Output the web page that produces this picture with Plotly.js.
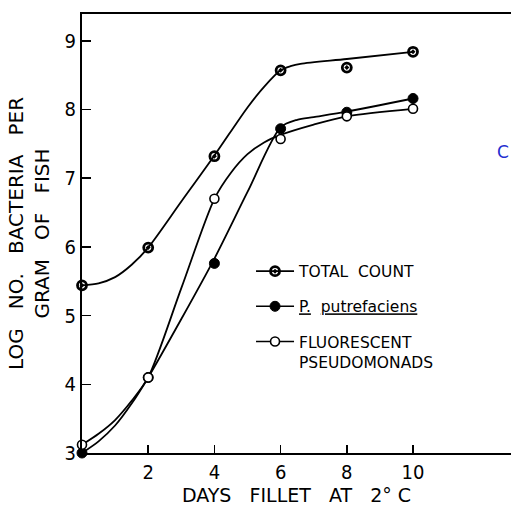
<!DOCTYPE html>
<html>
<head>
<meta charset="utf-8">
<script src="https://cdn.plot.ly/plotly-3.0.1.min.js"></script>
<style>html,body{margin:0;padding:0;background:#fff;}#chart{width:511px;height:509px;}</style>
</head>
<body>
<div id="chart"></div>
<script>
// Measured points
const days = [0, 2, 4, 6, 8, 10];
const totalCount = [5.44, 5.99, 7.32, 8.57, 8.61, 8.84];
const putrefaciens = [3.00, 4.10, 5.76, 7.72, 7.96, 8.16];
const fluorescent = [3.12, 4.10, 6.70, 7.57, 7.90, 8.01];

// Hand-drawn curves
const totalCurveDays = [0, 0.5, 1, 1.5, 2, 3, 4, 5, 5.5, 6, 6.3, 6.6, 8, 10];
const totalCurve = [5.44, 5.47, 5.56, 5.74, 5.99, 6.66, 7.33, 8.03, 8.33, 8.57, 8.63, 8.665, 8.735, 8.84];
const putCurveDays = [0, 0.5, 1, 1.5, 2, 3, 4, 5, 6, 6.5, 7, 8, 10];
const putCurve = [3.00, 3.17, 3.40, 3.72, 4.10, 4.95, 5.83, 6.80, 7.74, 7.85, 7.89, 7.97, 8.16];
const fluCurveDays = [0, 0.5, 1, 1.5, 2, 3, 4, 4.5, 5, 5.5, 6, 7, 8, 10];
const fluCurve = [3.12, 3.28, 3.48, 3.76, 4.10, 5.40, 6.70, 7.08, 7.35, 7.52, 7.63, 7.78, 7.90, 8.01];

const xTicks = [2, 4, 6, 8, 10];
const yTicks = [3, 4, 5, 6, 7, 8, 9];
const seriesNames = ['TOTAL\u00a0\u00a0COUNT', '<u>P.</u>\u00a0\u00a0<u>putrefaciens</u>', 'FLUORESCENT<br>PSEUDOMONADS'];

const FONT = '"DejaVu Sans", sans-serif';
const FONT_C = '"DejaVu Sans Condensed", "DejaVu Sans", sans-serif';
const curveLine = {color: '#000', width: 1.8, shape: 'spline', smoothing: 0.8};

const mTotal = {symbol: 'circle-open-dot', size: 9, color: '#000', line: {color: '#000', width: 2.8}};
const mPut = {symbol: 'circle', size: 10, color: '#000', line: {color: '#000', width: 1}};
const mFlu = {symbol: 'circle', size: 9, color: '#fff', line: {color: '#000', width: 1.6}};

const traces = [
  {x: totalCurveDays, y: totalCurve, mode: 'lines', line: curveLine, showlegend: false, hoverinfo: 'skip'},
  {x: putCurveDays, y: putCurve, mode: 'lines', line: curveLine, showlegend: false, hoverinfo: 'skip'},
  {x: fluCurveDays, y: fluCurve, mode: 'lines', line: curveLine, showlegend: false, hoverinfo: 'skip'},
  {x: days, y: totalCount, mode: 'markers', marker: mTotal, showlegend: false, cliponaxis: false},
  {x: days, y: putrefaciens, mode: 'markers', marker: mPut, showlegend: false, cliponaxis: false},
  {x: days, y: fluorescent, mode: 'markers', marker: mFlu, showlegend: false, cliponaxis: false},
  // legend entries
  {x: [null], y: [null], mode: 'lines+markers', name: seriesNames[0], marker: mTotal, line: {color: '#000', width: 1.6}, legendgroup: 'a'},
  {x: [null], y: [null], mode: 'lines+markers', name: seriesNames[1], marker: mPut, line: {color: '#000', width: 1.6}, legendgroup: 'b'},
  {x: [null], y: [null], mode: 'lines+markers', name: seriesNames[2], marker: mFlu, line: {color: '#000', width: 1.6}, legendgroup: 'c'}
];

const layout = {
  width: 511, height: 509,
  margin: {l: 82, r: 0, t: 14, b: 56},
  paper_bgcolor: '#fff', plot_bgcolor: '#fff',
  font: {family: FONT, color: '#000', size: 19},
  showlegend: true,
  legend: {
    x: 0.394, y: 0.452, xanchor: 'left', yanchor: 'top',
    bgcolor: 'rgba(0,0,0,0)', borderwidth: 0,
    font: {family: FONT, size: 15.5, color: '#000'},
    traceorder: 'grouped', tracegroupgap: 12, valign: 'top', itemwidth: 38
  },
  xaxis: {
    range: [0, 12.96], showgrid: false, zeroline: false,
    showline: true, linecolor: '#000', linewidth: 2, mirror: true,
    ticks: 'inside', ticklen: 8, tickwidth: 1.5, tickcolor: '#000',
    tickmode: 'array', tickvals: xTicks, ticktext: xTicks.map(String),
    tickfont: {size: 20, family: FONT_C},
    title: {text: 'DAYS\u00a0\u00a0\u00a0FILLET\u00a0\u00a0\u00a0AT\u00a0\u00a0\u00a02°\u00a0C\u00a0\u00a0\u00a0', font: {size: 19, family: FONT}, standoff: 6}
  },
  yaxis: {
    range: [3, 9.39], showgrid: false, zeroline: false,
    showline: true, linecolor: '#000', linewidth: 2,
    ticks: 'inside', ticklen: 9, tickwidth: 1.5, tickcolor: '#000',
    tickmode: 'array', tickvals: yTicks, ticktext: yTicks.map(String),
    tickfont: {size: 20, family: FONT_C},
    title: {text: 'LOG\u00a0\u00a0\u00a0NO.\u00a0\u00a0\u00a0BACTERIA\u00a0\u00a0\u00a0PER<br>GRAM\u00a0\u00a0\u00a0OF\u00a0\u00a0\u00a0FISH', font: {size: 20, family: FONT}, standoff: 10}
  },
  annotations: [
    {xref: 'paper', yref: 'paper', x: 1, y: (453 - 152) / 439, xanchor: 'right', yanchor: 'middle',
     text: 'C', showarrow: false, font: {size: 17, color: '#1f2fd0', family: FONT}}
  ]
};

Plotly.newPlot('chart', traces, layout, {staticPlot: true, displayModeBar: false});
</script>
</body>
</html>
